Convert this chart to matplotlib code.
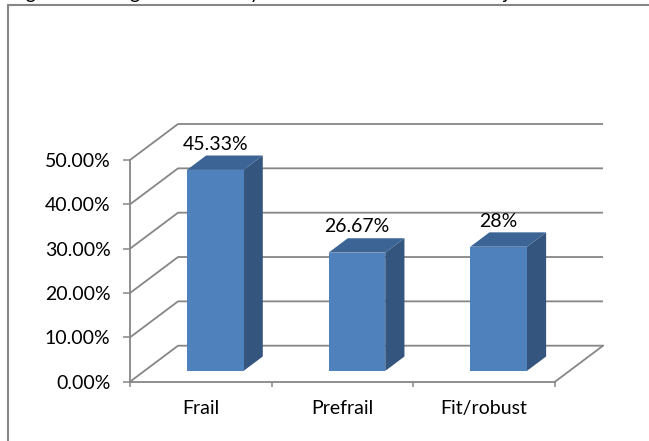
import matplotlib.pyplot as plt
from matplotlib.patches import Polygon, Rectangle
from matplotlib.ticker import FuncFormatter, FixedLocator

plt.rcParams["font.family"] = ["Lato", "DejaVu Sans"]

categories = ["Frail", "Prefrail", "Fit/robust"]
values = [45.33, 26.67, 28.0]
value_labels = ["45.33%", "26.67%", "28%"]
y_ticks = [0, 10, 20, 30, 40, 50]
title = "Figure 1: Categories of frailty index distribution in the subjects"

GRID = "#868686"
FRONT = "#4F81BD"
TOP = "#3C6596"
SIDE = "#33557E"
FS = 14

# pseudo-3d geometry, in data units
DX, DY = 0.339, 8.12      # full depth offset of the back wall
BAR_W = 0.4               # bar width (category units)
F0, FD = 0.3, 0.4         # bar front position / bar depth, as fraction of depth

fig = plt.figure(figsize=(6.49, 4.41), dpi=100)
ax = fig.add_axes([130 / 649, 59.3 / 441, 425 / 649, 221.7 / 441])
ax.set_xlim(0, len(categories))
ax.set_ylim(0, y_ticks[-1])
ax.patch.set_visible(False)

for s in ("top", "right"):
    ax.spines[s].set_visible(False)
for s in ("left", "bottom"):
    ax.spines[s].set_color(GRID)
    ax.spines[s].set_linewidth(1.3)

ax.yaxis.set_major_locator(FixedLocator(y_ticks))
ax.yaxis.set_major_formatter(FuncFormatter(lambda v, _: f"{v:.2f}%"))
ax.tick_params(axis="y", length=5, width=1.1, color=GRID, pad=9, labelsize=FS)

n = len(categories)
ax.xaxis.set_major_locator(FixedLocator(range(n + 1)))
ax.xaxis.set_minor_locator(FixedLocator([i + 0.5 for i in range(n)]))
ax.set_xticklabels([], minor=False)
ax.set_xticklabels(categories, minor=True)
ax.tick_params(axis="x", which="major", length=3.6, width=1.1, color=GRID)
ax.tick_params(axis="x", which="minor", length=0, pad=13, labelsize=FS)

# side wall and back wall grid lines
for v in y_ticks:
    ax.plot([0, DX, n + DX], [v, v + DY, v + DY], color=GRID, lw=1.3,
            clip_on=False, zorder=1, solid_capstyle="butt")
# right floor edge
ax.plot([n, n + DX], [0, DY], color=GRID, lw=1.3, clip_on=False, zorder=1)

for i, (val, lab) in enumerate(zip(values, value_labels)):
    x0 = i + 0.5 - BAR_W / 2 + F0 * DX
    y0 = F0 * DY
    ddx, ddy = FD * DX, FD * DY
    side = Polygon([(x0 + BAR_W, y0), (x0 + BAR_W + ddx, y0 + ddy),
                    (x0 + BAR_W + ddx, y0 + val + ddy), (x0 + BAR_W, y0 + val)],
                   closed=True, facecolor=SIDE, edgecolor="none",
                   clip_on=False, zorder=3)
    top = Polygon([(x0, y0 + val), (x0 + BAR_W, y0 + val),
                   (x0 + BAR_W + ddx, y0 + val + ddy), (x0 + ddx, y0 + val + ddy)],
                  closed=True, facecolor=TOP, edgecolor="none",
                  clip_on=False, zorder=3)
    front = Rectangle((x0, y0), BAR_W, val, facecolor=FRONT, edgecolor="none",
                      clip_on=False, zorder=4)
    for p in (side, top, front):
        ax.add_patch(p)
    ax.annotate(lab, (x0 + BAR_W / 2, y0 + val + ddy), xytext=(0, 2),
                textcoords="offset points", ha="center", va="bottom",
                fontsize=FS, color="black", zorder=5, annotation_clip=False)

# outer chart border (runs off the right and bottom of the picture)
fig.patches.append(Rectangle((8 / 649, -0.2), 1.2, 1.2 - 4.5 / 441,
                             transform=fig.transFigure, fill=False,
                             edgecolor=GRID, lw=1.5))
fig.text(10 / 649, 1 + 0.7 / 441, title, ha="left", va="baseline",
         fontsize=FS, color="black")

fig.savefig("out.png", dpi=100)
